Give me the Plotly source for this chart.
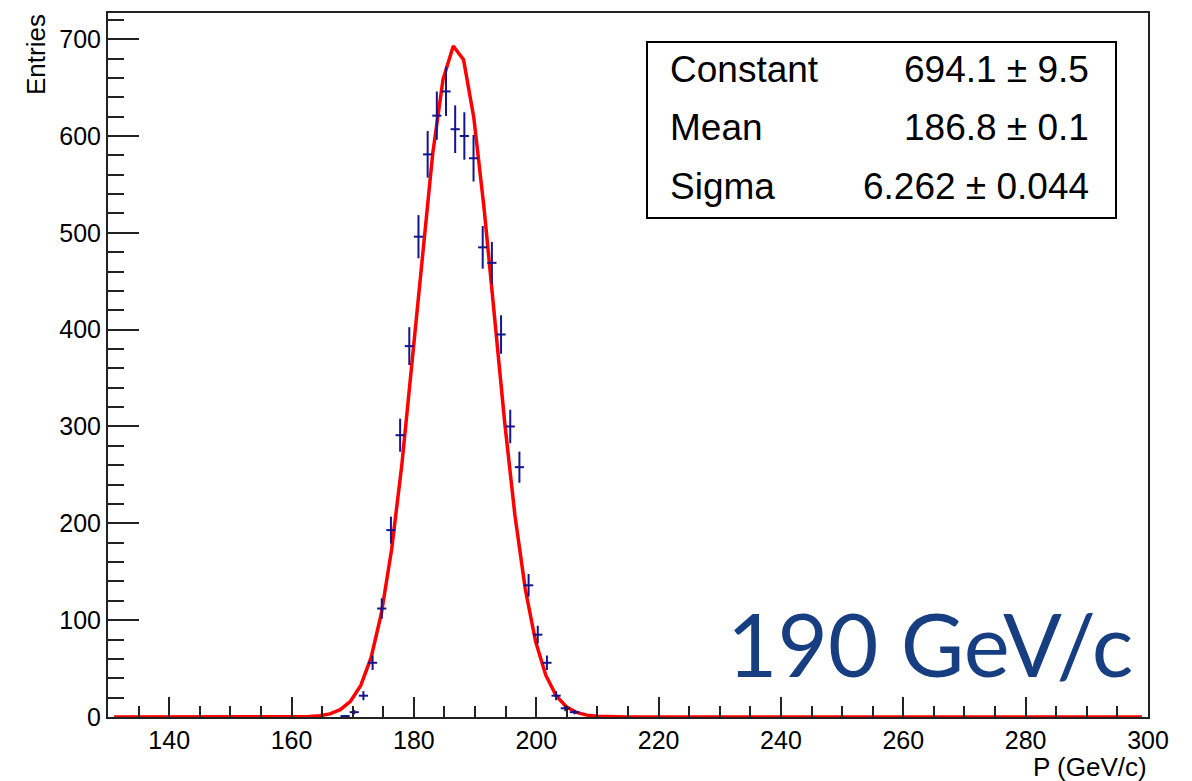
import numpy as np
import plotly.graph_objects as go

# ---- data ----
bin_centers = [168.75, 170.25, 171.75, 173.25, 174.75, 176.25, 177.75, 179.25,
               180.75, 182.25, 183.75, 185.25, 186.75, 188.25, 189.75, 191.25,
               192.75, 194.25, 195.75, 197.25, 198.75, 200.25, 201.75, 203.25,
               204.75, 206.25]
counts = [1, 5, 22, 56, 112, 193, 291, 383,
          496, 581, 621, 646, 607, 600, 577, 485,
          469, 395, 300, 258, 136, 85, 56, 22,
          9, 5]
bin_half_width = 0.75

fit_names = ["Constant", "Mean", "Sigma"]
fit_values = ["694.1", "186.8", "6.262"]
fit_errors = ["9.5", "0.1", "0.044"]
fit_params = [694.1, 186.8, 6.262]
fit_range = [131.0, 299.0]

x_range = [130, 300]
y_range = [0, 727]

# ---- figure ----
W, H = 1192, 781
ml, mr, mt, mb = 108, 44, 13, 64
pw, ph = W - ml - mr, H - mt - mb

def px(x):
    return (x - ml) / pw

def py(y):
    return (H - mb - y) / ph

errs = np.sqrt(np.array(counts, dtype=float))

fig = go.Figure()

fx = np.linspace(fit_range[0], fit_range[1], 101)
c, m, s = fit_params
fy = c * np.exp(-0.5 * ((fx - m) / s) ** 2)
fig.add_trace(go.Scatter(x=fx, y=fy, mode="lines",
                         line=dict(color="#ff0000", width=3.5),
                         hoverinfo="skip", showlegend=False))

fig.add_trace(go.Scatter(
    x=bin_centers, y=counts, mode="markers",
    marker=dict(size=0.1, color="#14148c"),
    error_y=dict(type="data", array=errs, visible=True, color="#14148c",
                 thickness=2, width=0),
    error_x=dict(type="constant", value=bin_half_width, visible=True,
                 color="#14148c", thickness=2, width=0),
    showlegend=False))

tickfont = dict(family="Liberation Sans, Arial, sans-serif", size=25, color="black")

fig.update_layout(
    width=W, height=H,
    margin=dict(l=ml, r=mr, t=mt, b=mb, pad=0),
    plot_bgcolor="white", paper_bgcolor="white",
    xaxis=dict(range=x_range, dtick=20, tick0=0, showgrid=False, zeroline=False,
               showline=True, linecolor="#222", linewidth=2, mirror=True,
               ticks="inside", ticklen=20, tickwidth=2, tickcolor="#222",
               minor=dict(ticks="inside", ticklen=11, dtick=5, tickwidth=2,
                          tickcolor="#222", showgrid=False),
               tickfont=tickfont),
    yaxis=dict(range=y_range, dtick=100, tick0=0, showgrid=False, zeroline=False,
               showline=True, linecolor="#222", linewidth=2, mirror=True,
               ticks="inside", ticklen=31, tickwidth=2, tickcolor="#222",
               minor=dict(ticks="inside", ticklen=16, dtick=20, tickwidth=2,
                          tickcolor="#222", showgrid=False),
               tickfont=tickfont),
)

# stats box
fig.add_shape(type="rect", xref="paper", yref="paper",
              x0=px(647), x1=px(1116), y0=py(218), y1=py(42),
              line=dict(color="black", width=2), fillcolor="white", layer="above")

statfont = dict(family="Liberation Sans, Arial, sans-serif", size=37, color="black")
row_y = [69, 128, 186]
for name, val, err, yy in zip(fit_names, fit_values, fit_errors, row_y):
    fig.add_annotation(xref="paper", yref="paper", x=px(668), y=py(yy),
                       xanchor="left", yanchor="middle", showarrow=False,
                       text=name, font=statfont)
    fig.add_annotation(xref="paper", yref="paper", x=px(1091), y=py(yy),
                       xanchor="right", yanchor="middle", showarrow=False,
                       text=f"{val} \u00b1 {err}", font=statfont)

# axis titles
fig.add_annotation(xref="paper", yref="paper", x=px(36), y=py(55),
                   xanchor="center", yanchor="middle", showarrow=False,
                   text="Entries", textangle=-90,
                   font=dict(family="Liberation Sans, Arial, sans-serif", size=26, color="black"))
fig.add_annotation(xref="paper", yref="paper", x=px(1149), y=py(767),
                   xanchor="right", yanchor="middle", showarrow=False,
                   text="P (GeV/c)",
                   font=dict(family="Liberation Sans, Arial, sans-serif", size=26, color="black"))

# big energy label
fig.add_annotation(xref="paper", yref="paper", x=px(1135), y=py(643),
                   xanchor="right", yanchor="middle", showarrow=False,
                   text="190 GeV/c",
                   font=dict(family="Lato, Open Sans, sans-serif", size=87, color="#163e80"))

fig.write_html("out.html",
               config={"displayModeBar": False},
               post_script="document.body.style.margin='0px';document.body.style.overflow='hidden';")
